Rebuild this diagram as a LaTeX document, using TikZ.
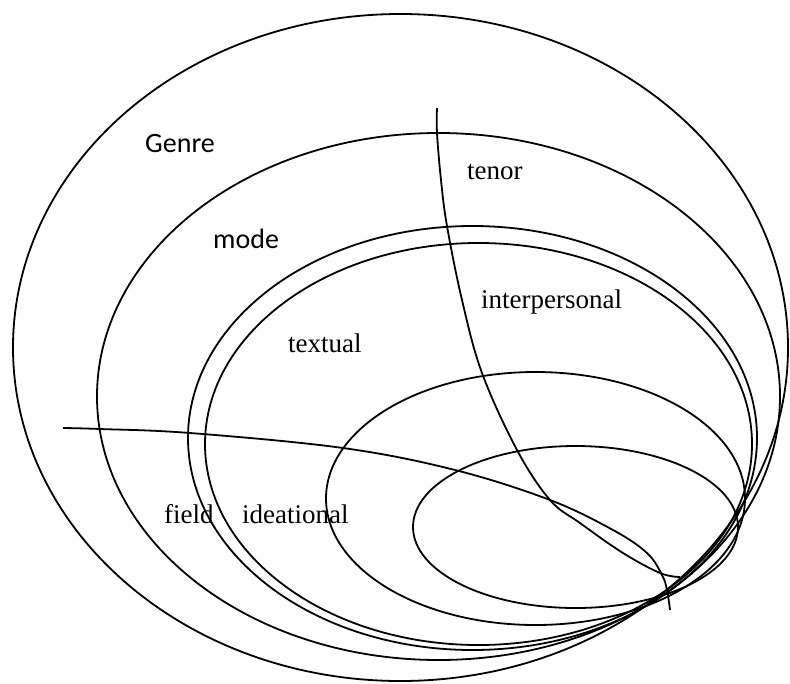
\documentclass[tikz,border=0pt]{standalone}
\usepackage{fontspec}
\setmainfont{Liberation Serif}
\newfontfamily\calibrifont{Carlito}

\begin{document}
\begin{tikzpicture}[x=1pt,y=-1pt,
  rim/.style={line width=1.8pt},
  serif/.style={anchor=base west,inner sep=0pt,font=\fontsize{27}{30}\selectfont},
  sans/.style={anchor=base west,inner sep=0pt,font=\calibrifont\fontsize{28}{32}\selectfont}]
\path (0,0) rectangle (790,683);
% context layers
\draw[rim] (400.5,347.5) ellipse [x radius=387.5, y radius=333.5];
\draw[rim] (438.5,396.5) ellipse [x radius=341.5, y radius=263.5];
\draw[rim] (472.5,438) ellipse [x radius=284.5, y radius=212];
\draw[rim] (478.5,444) ellipse [x radius=273.5, y radius=201];
\draw[rim] (535.5,498.5) ellipse [x radius=209.5, y radius=126.5];
\draw[rim] (575.5,527) ellipse [x radius=162.5, y radius=81];
% dividing arcs
\draw[rim] plot[smooth,tension=0.6] coordinates {(437,108) (437,133) (441,180) (447,226)
  (462,300) (482,373) (517,450) (550,500) (580,523) (623,553) (660,573) (680,577)};
\draw[rim] plot[smooth,tension=0.6] coordinates {(63,428) (100,429) (190,433) (343,448)
  (455,470) (550,500) (613,530) (647,553) (662,575) (667,590) (670,610)};
% labels
\node[sans] (genre) at (145,152) {Genre};
\node[sans] (mode) at (213,248) {mode};
\node[serif] (tenor) at (467,179) {tenor};
\node[serif] (interp) at (481,308) {interpersonal};
\node[serif] (textual) at (288,352) {textual};
\node[serif] (field) at (164,523) {field};
\node[serif] (ideat) at (242,523) {ideational};
\end{tikzpicture}
\end{document}
